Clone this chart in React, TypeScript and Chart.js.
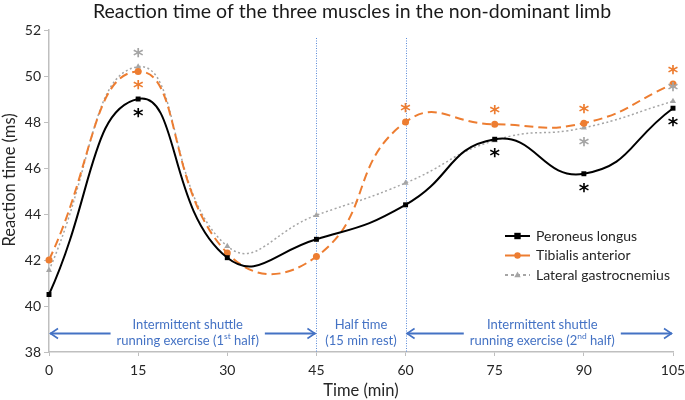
import React, { useEffect, useRef } from 'react';
import { Chart, registerables } from 'chart.js';

Chart.register(...registerables);

const times = [0, 15, 30, 45, 60, 75, 90, 105];
const peroneusLongus = [40.5, 49.0, 42.1, 42.9, 44.4, 47.25, 45.75, 48.6];
const tibialisAnterior = [42.0, 50.2, 42.3, 42.15, 48.0, 47.9, 47.95, 49.65];
const lateralGastrocnemius = [41.55, 50.4, 42.6, 43.95, 45.35, 47.2, 47.75, 48.9];

// significance asterisks: 1 = above the point, -1 = below, 0 = none
const peroneusStars = [0, -1, 0, 0, 0, -1, -1, -1];
const tibialisStars = [0, -1, 0, 0, 1, 1, 1, 1];
const gastrocStars = [0, 1, 0, 0, 0, 0, -1, 1];

const seriesNames = ['Peroneus longus', 'Tibialis anterior', 'Lateral gastrocnemius'];
const chartTitle = 'Reaction time of the three muscles in the non-dominant limb';
const yTitle = 'Reaction time (ms)';
const xTitle = 'Time (min)';

// phase boundaries (min) and their labels; [text, superscript]
const phaseBreaks = [45, 60];
const phaseRanges = [
  [0, 45],
  [45, 60],
  [60, 105],
];
const phaseArrows = [true, false, true];
const phaseLabels: [string, boolean][][][] = [
  [[['Intermittent shuttle', false]], [['running exercise (1', false], ['st', true], [' half)', false]]],
  [[['Half time', false]], [['(15 min rest)', false]]],
  [[['Intermittent shuttle', false]], [['running exercise (2', false], ['nd', true], [' half)', false]]],
];

const FONT = 'Lato, "Noto Sans", sans-serif';
const BLUE = '#4472C4';
const TEXT = '#262626';
const COLORS = ['#000000', '#ED7D31', '#A5A5A5'];

function drawMarker(ctx: CanvasRenderingContext2D, style: string, x: number, y: number, r: number, color: string) {
  ctx.save();
  ctx.fillStyle = color;
  ctx.beginPath();
  if (style === 'rect') {
    ctx.rect(x - r, y - r, r * 2, r * 2);
  } else if (style === 'circle') {
    ctx.arc(x, y, r, 0, Math.PI * 2);
  } else {
    ctx.moveTo(x, y - r * 1.1);
    ctx.lineTo(x + r, y + r * 0.7);
    ctx.lineTo(x - r, y + r * 0.7);
    ctx.closePath();
  }
  ctx.fill();
  ctx.restore();
}

function drawRichLine(ctx: CanvasRenderingContext2D, parts: [string, boolean][], cx: number, y: number, size: number) {
  const widths = parts.map(([t, sup]) => {
    ctx.font = `${sup ? size * 0.65 : size}px ${FONT}`;
    return ctx.measureText(t).width;
  });
  const total = widths.reduce((a, b) => a + b, 0);
  let x = cx - total / 2;
  parts.forEach(([t, sup], i) => {
    ctx.font = `${sup ? size * 0.65 : size}px ${FONT}`;
    ctx.fillText(t, x, sup ? y - size * 0.35 : y);
    x += widths[i];
  });
  return total;
}

const annotations = {
  id: 'annotations',
  beforeDatasetsDraw(chart: any) {
    const { ctx, chartArea } = chart;
    const xs = chart.scales.x;

    // titles
    ctx.save();
    ctx.fillStyle = '#1a1a1a';
    ctx.textAlign = 'center';
    ctx.textBaseline = 'middle';
    ctx.font = `19.5px ${FONT}`;
    ctx.fillText(chartTitle, 352, 12);
    ctx.fillStyle = TEXT;
    ctx.font = `16.5px ${FONT}`;
    ctx.fillText(xTitle, (chartArea.left + chartArea.right) / 2, 391);
    ctx.translate(10, chartArea.top + 150);
    ctx.rotate(-Math.PI / 2);
    ctx.fillText(yTitle, 0, 0);
    ctx.restore();

    ctx.save();
    ctx.strokeStyle = '#5B8BD9';
    ctx.lineWidth = 1;
    ctx.setLineDash([1, 1.5]);
    phaseBreaks.forEach((t) => {
      const px = Math.round(xs.getPixelForValue(t)) + 0.5;
      ctx.beginPath();
      ctx.moveTo(px, chartArea.top + 8);
      ctx.lineTo(px, chartArea.bottom);
      ctx.stroke();
    });
    ctx.restore();

    // phase labels and arrows
    ctx.save();
    ctx.fillStyle = BLUE;
    ctx.textBaseline = 'middle';
    const size = 13;
    phaseRanges.forEach(([a, b], i) => {
      const x0 = xs.getPixelForValue(a);
      const x1 = xs.getPixelForValue(b);
      const cx = (x0 + x1) / 2 + (i === 0 ? 5 : i === 2 ? 3 : 0);
      let w = 0;
      phaseLabels[i].forEach((line, j) => {
        w = Math.max(w, drawRichLine(ctx, line, cx, chartArea.bottom - 27 + j * 16, size));
      });
      if (phaseArrows[i]) {
        const ay = chartArea.bottom - 18.5;
        const g0 = cx - w / 2 - 6;
        const g1 = cx + w / 2 + 6;
        ctx.strokeStyle = BLUE;
        ctx.lineWidth = 2;
        ctx.beginPath();
        ctx.moveTo(x0 + 1, ay);
        ctx.lineTo(g0, ay);
        ctx.moveTo(g1, ay);
        ctx.lineTo(x1 - 1, ay);
        ctx.stroke();
        ctx.lineWidth = 1.6;
        ctx.beginPath();
        ctx.moveTo(x0 + 9, ay - 5);
        ctx.lineTo(x0 + 1.5, ay);
        ctx.lineTo(x0 + 9, ay + 5);
        ctx.moveTo(x1 - 9, ay - 5);
        ctx.lineTo(x1 - 1.5, ay);
        ctx.lineTo(x1 - 9, ay + 5);
        ctx.stroke();
      }
    });
    ctx.restore();
  },
  afterDatasetsDraw(chart: any) {
    const { ctx, chartArea } = chart;
    const stars = [peroneusStars, tibialisStars, gastrocStars];
    ctx.save();
    ctx.font = `bold 20px "DejaVu Sans"`;
    ctx.textAlign = 'center';
    ctx.textBaseline = 'alphabetic';
    const m = ctx.measureText('*');
    const mid = (m.actualBoundingBoxAscent - m.actualBoundingBoxDescent) / 2;
    stars.forEach((list, d) => {
      const meta = chart.getDatasetMeta(d);
      ctx.fillStyle = COLORS[d];
      list.forEach((s, i) => {
        if (!s) return;
        const p = meta.data[i];
        ctx.fillText('*', p.x, p.y - s * 14 + mid);
      });
    });
    ctx.restore();

    // legend
    ctx.save();
    const lx = chartArea.right - 168;
    const styles = ['rect', 'circle', 'triangle'];
    chart.data.datasets.forEach((ds: any, d: number) => {
      const y = chartArea.bottom - 116 + d * 19.5;
      ctx.strokeStyle = ds.borderColor;
      ctx.lineWidth = 2;
      ctx.setLineDash(d === 2 ? [3, 3] : []);
      ctx.beginPath();
      ctx.moveTo(lx, y);
      ctx.lineTo(lx + 25, y);
      ctx.stroke();
      drawMarker(ctx, styles[d], lx + 12.5, y, 3.2, ds.borderColor);
      ctx.fillStyle = TEXT;
      ctx.font = `14px ${FONT}`;
      ctx.textBaseline = 'middle';
      ctx.fillText(ds.label, lx + 31, y);
    });
    ctx.restore();
  },
};

const App: React.FC = () => {
  const canvasRef = useRef<HTMLCanvasElement | null>(null);
  const chartInstance = useRef<Chart | null>(null);

  useEffect(() => {
    document.body.style.margin = '0';
    if (!canvasRef.current) return;
    if (chartInstance.current) chartInstance.current.destroy();

    const series = [peroneusLongus, tibialisAnterior, lateralGastrocnemius];
    const pointStyles = ['rect', 'circle', 'triangle'];
    const dashes = [[], [9, 5], [2, 2.5]];
    const widths = [2, 2, 1.5];

    chartInstance.current = new Chart(canvasRef.current, {
      type: 'line',
      data: {
        datasets: series.map((vals, d) => ({
          label: seriesNames[d],
          data: times.map((t, i) => ({ x: t, y: vals[i] })),
          borderColor: COLORS[d],
          backgroundColor: COLORS[d],
          borderWidth: widths[d],
          borderDash: dashes[d],
          pointStyle: pointStyles[d],
          pointRadius: 3.5,
          pointBorderWidth: 0,
          tension: 0.5,
          clip: false,
        })),
      },
      options: {
        animation: false,
        responsive: false,
        layout: { padding: { left: 0, right: 0, top: 30, bottom: 0 } },
        plugins: {
          legend: { display: false },
          tooltip: { enabled: false },
          title: { display: false },
        },
        scales: {
          x: {
            type: 'linear',
            min: 0,
            max: 105,
            ticks: { stepSize: 15, color: TEXT, font: { family: FONT, size: 14 }, padding: 6 },
            grid: { drawOnChartArea: false, tickLength: 4, color: '#bfbfbf' },
            border: { color: '#bfbfbf', width: 1.5 },
            afterFit: (s: any) => {
              s.height = 48;
              s.paddingRight = 12;
              s.paddingLeft = 0;
            },
          },
          y: {
            min: 38,
            max: 52,
            ticks: { stepSize: 2, color: TEXT, font: { family: FONT, size: 14 }, padding: 3 },
            grid: { drawOnChartArea: false, tickLength: 5, color: '#bfbfbf' },
            border: { color: '#bfbfbf', width: 1.5 },
            afterFit: (s: any) => {
              s.width = 49;
            },
          },
        },
      },
      plugins: [annotations],
    });

    return () => {
      if (chartInstance.current) {
        chartInstance.current.destroy();
        chartInstance.current = null;
      }
    };
  }, []);

  return <canvas ref={canvasRef} width={685} height={400} style={{ display: 'block' }} />;
};

export default App;
